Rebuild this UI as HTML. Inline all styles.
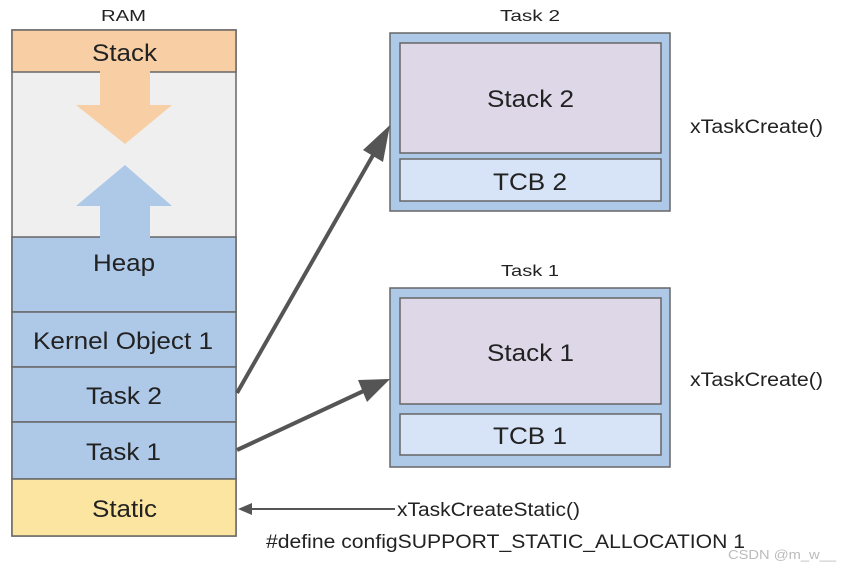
<!DOCTYPE html>
<html><head><style>
body{margin:0;background:#fff;width:842px;height:570px;overflow:hidden}
svg text{font-family:"Liberation Sans",sans-serif;fill:#222}
</style></head><body>
<svg width="842" height="570" viewBox="0 0 842 570">
<text x="101" y="21" font-size="16" textLength="45" lengthAdjust="spacingAndGlyphs" fill="#333">RAM</text>
<rect x="12" y="30" width="224" height="506" fill="#efefef" stroke="#666" stroke-width="1.5"/>
<rect x="12" y="30" width="224" height="42" fill="#f8cfa5" stroke="#666" stroke-width="1.5"/>
<text x="92" y="61" font-size="24" textLength="65" lengthAdjust="spacingAndGlyphs">Stack</text>
<rect x="12" y="237" width="224" height="75" fill="#aec9e8" stroke="#666" stroke-width="1.5"/>
<rect x="12" y="312" width="224" height="55" fill="#aec9e8" stroke="#666" stroke-width="1.5"/>
<rect x="12" y="367" width="224" height="55" fill="#aec9e8" stroke="#666" stroke-width="1.5"/>
<rect x="12" y="422" width="224" height="57" fill="#aec9e8" stroke="#666" stroke-width="1.5"/>
<rect x="12" y="479" width="224" height="57" fill="#fbe5a0" stroke="#666" stroke-width="1.5"/>
<polygon points="100,71 150,71 150,105 172,105 125,144 76,105 100,105" fill="#f8cfa5"/>
<polygon points="100,238 150,238 150,206 172,206 125,165 76,206 100,206" fill="#aec9e8"/>
<text x="93" y="271" font-size="24" textLength="62" lengthAdjust="spacingAndGlyphs">Heap</text>
<text x="33" y="349" font-size="24" textLength="180" lengthAdjust="spacingAndGlyphs">Kernel Object 1</text>
<text x="86" y="404" font-size="24" textLength="76" lengthAdjust="spacingAndGlyphs">Task 2</text>
<text x="86" y="460" font-size="24" textLength="75" lengthAdjust="spacingAndGlyphs">Task 1</text>
<text x="92" y="517" font-size="24" textLength="65" lengthAdjust="spacingAndGlyphs">Static</text>

<text x="500" y="21" font-size="16" textLength="60" lengthAdjust="spacingAndGlyphs" fill="#333">Task 2</text>
<rect x="390" y="33" width="280" height="178" fill="#aec9e8" stroke="#666" stroke-width="1.5"/>
<rect x="400" y="43" width="261" height="110" fill="#ddd7e8" stroke="#666" stroke-width="1.5"/>
<rect x="400" y="159" width="261" height="42" fill="#d7e3f6" stroke="#666" stroke-width="1.5"/>
<text x="487" y="107" font-size="24" textLength="87" lengthAdjust="spacingAndGlyphs">Stack 2</text>
<text x="493" y="190" font-size="24" textLength="74" lengthAdjust="spacingAndGlyphs">TCB 2</text>

<text x="501" y="276" font-size="16" textLength="58" lengthAdjust="spacingAndGlyphs" fill="#333">Task 1</text>
<rect x="390" y="288" width="280" height="179" fill="#aec9e8" stroke="#666" stroke-width="1.5"/>
<rect x="400" y="298" width="261" height="106" fill="#ddd7e8" stroke="#666" stroke-width="1.5"/>
<rect x="400" y="414" width="261" height="41" fill="#d7e3f6" stroke="#666" stroke-width="1.5"/>
<text x="487" y="361" font-size="24" textLength="87" lengthAdjust="spacingAndGlyphs">Stack 1</text>
<text x="493" y="444" font-size="24" textLength="74" lengthAdjust="spacingAndGlyphs">TCB 1</text>

<text x="690" y="133" font-size="19" textLength="133" lengthAdjust="spacingAndGlyphs">xTaskCreate()</text>
<text x="690" y="386" font-size="19" textLength="133" lengthAdjust="spacingAndGlyphs">xTaskCreate()</text>

<line x1="237" y1="393" x2="376" y2="150" stroke="#555" stroke-width="4"/>
<polygon points="390,125 383,162 363,150" fill="#555"/>
<line x1="237" y1="450" x2="370" y2="388" stroke="#555" stroke-width="4"/>
<polygon points="390,379 367,402 358,380" fill="#555"/>
<line x1="250" y1="509" x2="395" y2="509" stroke="#555" stroke-width="2"/>
<polygon points="238,509 252,503 252,515" fill="#555"/>
<text x="397" y="516" font-size="19" textLength="183" lengthAdjust="spacingAndGlyphs">xTaskCreateStatic()</text>
<text x="266" y="548" font-size="19" textLength="479" lengthAdjust="spacingAndGlyphs">#define configSUPPORT_STATIC_ALLOCATION 1</text>
<text x="728" y="559" font-size="13" textLength="108" lengthAdjust="spacingAndGlyphs" style="fill:#bbb">CSDN @m_w__</text>
</svg>
</body></html>
